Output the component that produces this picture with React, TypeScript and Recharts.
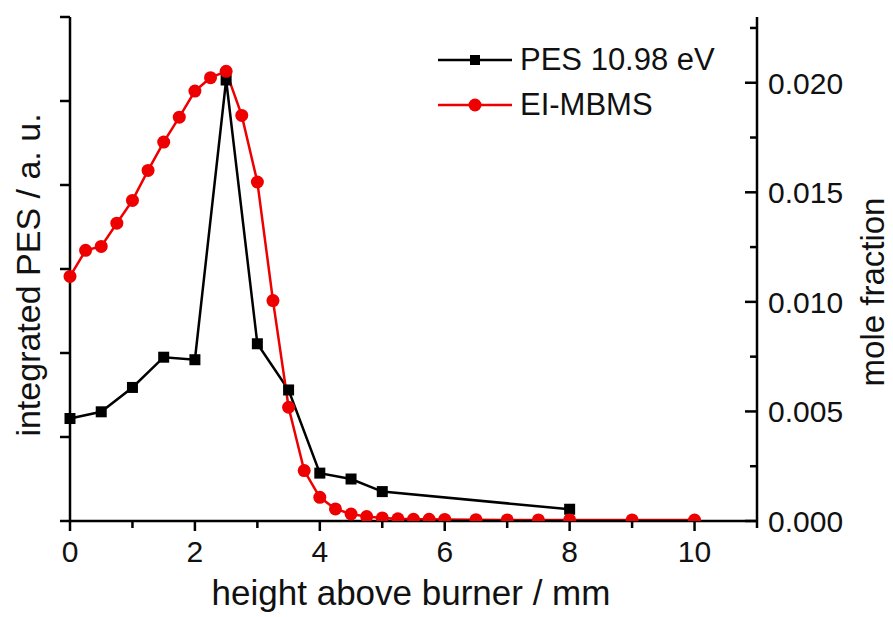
import { LineChart, Line, XAxis, YAxis, Legend, Label } from 'recharts'

const FONT = '"Liberation Sans", Arial, Helvetica, sans-serif'
const RED = '#ee0000'
const INK = '#111'

// PES 10.98 eV (left axis, arbitrary units)
const pesHeight = [0, 0.5, 1, 1.5, 2, 2.5, 3, 3.5, 4, 4.5, 5, 8]
const pesSignal = [1.22, 1.3, 1.59, 1.95, 1.92, 5.25, 2.11, 1.56, 0.57, 0.5, 0.35, 0.14]

// EI-MBMS (right axis, mole fraction)
const mbmsHeight = [0, 0.25, 0.5, 0.75, 1, 1.25, 1.5, 1.75, 2, 2.25, 2.5, 2.75, 3, 3.25, 3.5, 3.75, 4, 4.25, 4.5, 4.75, 5, 5.25, 5.5, 5.75, 6, 6.5, 7, 7.5, 8, 9, 10]
const mbmsFraction = [
  0.01116, 0.01235, 0.01253, 0.01359, 0.01463, 0.016, 0.01729, 0.01843, 0.01962, 0.02023, 0.02052,
  0.01851, 0.01547, 0.01006, 0.00519, 0.0023, 0.00108, 0.00055, 0.00032, 0.0002, 0.00014, 0.0001,
  0.00008, 0.00008, 0.00007, 0.00006, 0.00005, 0.00005, 0.00005, 0.00005, 0.00004,
]

const xTicks = [0, 1, 2, 3, 4, 5, 6, 7, 8, 9, 10, 11]
const xLabels = [0, 2, 4, 6, 8, 10]
const leftTicks = [0, 1, 2, 3, 4, 5, 6]
const rightTicks = [0, 0.0025, 0.005, 0.0075, 0.01, 0.0125, 0.015, 0.0175, 0.02, 0.0225]

const pesData = pesHeight.map((h, i) => ({ h, v: pesSignal[i] }))
const mbmsData = mbmsHeight.map((h, i) => ({ h, v: mbmsFraction[i] }))

const axisStyle = { stroke: '#000', strokeWidth: 2.5 }

function BottomTick({ x, y, payload }: any) {
  const major = xLabels.includes(payload.value)
  return (
    <g>
      <line x1={x} x2={x} y1={y} y2={y + (major ? 10 : 7)} stroke="#000" strokeWidth={2.5} />
      {major && (
        <text x={x} y={y + 41} textAnchor="middle" fontSize={30} fontFamily={FONT} fill={INK}>
          {payload.value}
        </text>
      )}
    </g>
  )
}

function TopTick({ x, y, payload }: any) {
  const major = xLabels.includes(payload.value)
  return <line x1={x} x2={x} y1={y} y2={y + (major ? 11 : 7)} stroke="#000" strokeWidth={2.5} />
}

function LeftTick({ x, y }: any) {
  return <line x1={x - 10} x2={x} y1={y} y2={y} stroke="#000" strokeWidth={2.5} />
}

function RightTick({ x, y, payload }: any) {
  const major = Math.round(payload.value / 0.0025) % 2 === 0
  return (
    <g>
      <line x1={x} x2={x - (major ? 12 : 7)} y1={y} y2={y} stroke="#000" strokeWidth={2.5} />
      {major && (
        <text x={x + 11} y={y + 11} fontSize={30} fontFamily={FONT} fill={INK}>
          {payload.value.toFixed(3)}
        </text>
      )}
    </g>
  )
}

function SquareDot({ cx, cy, index }: any) {
  return <rect key={index} x={cx - 5.5} y={cy - 5.5} width={11} height={11} fill="#000" />
}

function LegendBox() {
  const rows = [
    { name: 'PES 10.98 eV', color: '#000', square: true },
    { name: 'EI-MBMS', color: RED, square: false },
  ]
  return (
    <div style={{ fontFamily: FONT }}>
      {rows.map(r => (
        <div key={r.name} style={{ display: 'flex', alignItems: 'center', height: 45 }}>
          <svg width={80} height={20}>
            <line x1={2} x2={76} y1={10} y2={10} stroke={r.color} strokeWidth={2.5} />
            {r.square ? (
              <rect x={34} y={5} width={10} height={10} fill={r.color} />
            ) : (
              <circle cx={39} cy={10} r={6.5} fill={r.color} />
            )}
          </svg>
          <span style={{ fontSize: 31, color: INK, marginLeft: 4, whiteSpace: 'nowrap' }}>{r.name}</span>
        </div>
      ))}
    </div>
  )
}

export default function App() {
  return (
    <div style={{ position: 'absolute', left: 0, top: 0, background: '#fff' }}>
      <LineChart width={893} height={617} margin={{ top: 17, right: 0, bottom: 0, left: 0 }}>
        <XAxis
          dataKey="h"
          type="number"
          domain={[0, 11]}
          ticks={xTicks}
          interval={0}
          height={96}
          tickSize={0}
          tickMargin={0}
          tickLine={false}
          axisLine={axisStyle}
          tick={(p: any) => <BottomTick {...p} />}
        >
          <Label
            content={() => (
              <text x={411} y={605} textAnchor="middle" fontSize={35} fontFamily={FONT} fill={INK}>
                height above burner / mm
              </text>
            )}
          />
        </XAxis>
        <XAxis
          xAxisId="top"
          orientation="top"
          dataKey="h"
          type="number"
          domain={[0, 11]}
          allowDataOverflow
          ticks={xTicks}
          interval={0}
          height={0}
          tickSize={0}
          tickMargin={0}
          tickLine={false}
          axisLine={axisStyle}
          tick={(p: any) => <TopTick {...p} />}
        />
        <YAxis
          yAxisId="left"
          type="number"
          domain={[0, 6]}
          ticks={leftTicks}
          interval={0}
          width={70}
          tickSize={0}
          tickMargin={0}
          tickLine={false}
          axisLine={axisStyle}
          tick={(p: any) => <LeftTick {...p} />}
        >
          <Label
            content={() => (
              <text transform="translate(40,275) rotate(-90)" textAnchor="middle" fontSize={34} fontFamily={FONT} fill={INK}>
                integrated PES / a. u.
              </text>
            )}
          />
        </YAxis>
        <YAxis
          yAxisId="right"
          orientation="right"
          type="number"
          domain={[0, 0.023]}
          allowDataOverflow
          ticks={rightTicks}
          interval={0}
          width={136}
          tickSize={0}
          tickMargin={0}
          tickLine={false}
          axisLine={axisStyle}
          tick={(p: any) => <RightTick {...p} />}
        >
          <Label
            content={() => (
              <text transform="translate(884,292) rotate(-90)" textAnchor="middle" fontSize={33} fontFamily={FONT} fill={INK}>
                mole fraction
              </text>
            )}
          />
        </YAxis>
        <Legend
          layout="vertical"
          align="center"
          verticalAlign="middle"
          content={() => <LegendBox />}
          wrapperStyle={{ left: 436, top: 37, width: 300 }}
        />
        <Line
          yAxisId="left"
          data={pesData}
          dataKey="v"
          name="PES 10.98 eV"
          type="linear"
          stroke="#000"
          strokeWidth={2.5}
          dot={(p: any) => <SquareDot key={p.index} {...p} />}
          activeDot={false}
          isAnimationActive={false}
        />
        <Line
          yAxisId="right"
          data={mbmsData}
          dataKey="v"
          name="EI-MBMS"
          type="linear"
          stroke={RED}
          strokeWidth={2.5}
          dot={{ r: 6.5, fill: RED, stroke: RED, strokeWidth: 0 }}
          activeDot={false}
          isAnimationActive={false}
        />
      </LineChart>
    </div>
  )
}
